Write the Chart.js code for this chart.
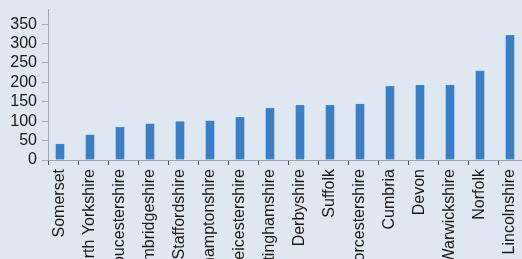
<!DOCTYPE html>
<html>
<head>
<meta charset="utf-8">
<script src="https://cdn.jsdelivr.net/npm/chart.js@4/dist/chart.umd.min.js"></script>
<style>
  html, body { margin: 0; padding: 0; width: 522px; height: 259px; overflow: hidden; background: #dfe8f1; }
  #wrap { position: absolute; left: 0; top: 0; width: 522px; height: 259px; overflow: hidden; }
  #c { position: absolute; left: 0; top: 0; }
</style>
</head>
<body>
<div id="wrap"><canvas id="c" width="528" height="300"></canvas></div>
<script>
const categories = ["Somerset", "North Yorkshire", "Gloucestershire", "Cambridgeshire", "Staffordshire",
  "Northamptonshire", "Leicestershire", "Nottinghamshire", "Derbyshire", "Suffolk",
  "Worcestershire", "Cumbria", "Devon", "Warwickshire", "Norfolk", "Lincolnshire"];
const values = [41, 65, 85, 93, 99, 101, 110, 134, 141, 141, 144, 190, 193, 193, 230, 321];
const yTickValues = [0, 50, 100, 150, 200, 250, 300, 350];
const yMax = 389;

const FONT = { family: "'Liberation Sans', Arial, sans-serif", size: 16 };
const AXIS = '#a3a6aa';
const BAR_SHIFT = 0.1;

new Chart(document.getElementById('c'), {
  type: 'bar',
  data: {
    labels: categories,
    datasets: [{
      data: values.map((v, i) => ({ x: i, y: v })),
      xAxisID: 'xb',
      backgroundColor: '#3b7fc6',
      borderColor: '#5590cf',
      borderWidth: 0.5,
      barThickness: 8.5
    }]
  },
  options: {
    responsive: false,
    animation: false,
    layout: { padding: { top: 9, left: 0, right: 0, bottom: 0 } },
    plugins: { legend: { display: false }, tooltip: { enabled: false } },
    scales: {
      x: {
        type: 'category',
        position: 'bottom',
        offset: true,
        grid: { offset: true, drawOnChartArea: false, drawTicks: true, tickLength: 5, color: AXIS, tickColor: '#555' },
        border: { display: true, color: AXIS, width: 1 },
        ticks: { autoSkip: false, minRotation: 90, maxRotation: 90, padding: 4, labelOffset: -3, color: '#1a1a1a', font: FONT },
        afterFit: s => { s.height = 140; s.paddingLeft = 0; s.paddingRight = 0; }
      },
      xb: {
        type: 'linear',
        display: false,
        offset: false,
        grid: { offset: false },
        min: -0.5 + BAR_SHIFT,
        max: categories.length - 0.5 + BAR_SHIFT
      },
      y: {
        min: 0,
        max: yMax,
        grid: { drawOnChartArea: false, drawTicks: true, tickLength: 6, color: AXIS },
        border: { display: true, color: AXIS, width: 1 },
        ticks: { autoSkip: false, padding: 5, color: '#1a1a1a', font: FONT },
        afterBuildTicks: s => { s.ticks = yTickValues.map(v => ({ value: v })); },
        afterFit: s => { s.width = 48; s.paddingTop = 0; s.paddingBottom = 0; }
      }
    }
  }
});
</script>
</body>
</html>
